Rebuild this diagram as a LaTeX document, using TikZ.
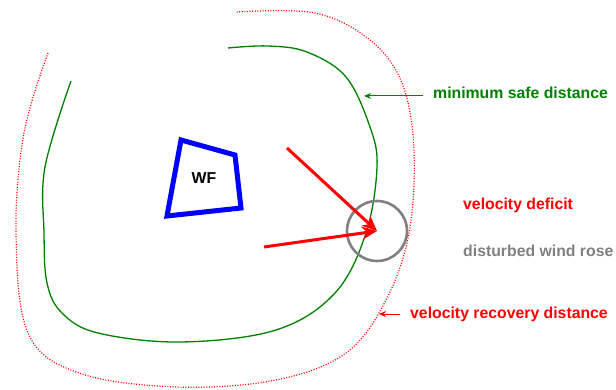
\documentclass[tikz,border=0pt]{standalone}
\usepackage{fontspec}
\setmainfont{Liberation Sans}
\usetikzlibrary{arrows.meta,calc,positioning}
\definecolor{safegreen}{RGB}{0,128,0}
\definecolor{rosegray}{RGB}{128,128,128}
\tikzset{
  safeline/.style={draw=safegreen,line width=1.3pt},
  recoveryline/.style={draw=red,line width=1.2pt,dash pattern=on 1pt off 1.6pt},
  farm/.style={draw=blue,line width=5pt,line join=miter},
  rose/.style={draw=rosegray,circle,line width=2.6pt,minimum size=60pt,inner sep=0pt},
  windarrow/.style={draw=red,line width=3pt,-{Stealth[length=15pt,width=13pt]}},
  tag/.style={font=\bfseries\fontsize{15.8}{18}\selectfont,anchor=west,inner sep=0pt}
}

\begin{document}
\begin{tikzpicture}[x=1pt,y=-1pt,>={Stealth[length=7pt,width=6pt]}]
  \useasboundingbox (0,0) rectangle (616,390);

  % outer limit, velocity recovery
  \draw[recoveryline] plot[smooth,tension=0.6] coordinates {
    (48,53) (24,133) (16,233) (28,333) (79,373) (177,387) (276,380)
    (346,353) (386,300) (409,233) (414,150) (402,83) (370,40) (315,13) (236,12)};

  % inner limit, minimum safe distance
  \draw[safeline] plot[smooth,tension=0.6] coordinates {
    (71,81) (45,167) (44,233) (47,283) (62,313) (98,333) (181,342) (276,330)
    (335,293) (366,233) (377,167) (370,127) (346,77) (307,52) (268,46) (228,48)};

  % wind farm
  \draw[farm] (181,140) -- (235,155) -- (241,208) -- (167,216) -- cycle;
  \node[font=\bfseries\fontsize{15.8}{18}\selectfont] (wf) at (204,178) {WF};

  % disturbed wind rose and wind
  \node[rose] (rose) at (377,231) {};
  \coordinate (w1) at (287,148);
  \coordinate (w2) at (264,247);
  \draw[windarrow] (w1) -- (rose.center);
  \draw[windarrow] (w2) -- (rose.center);

  % labels
  \node[tag,text=safegreen] (safe) at (433,93) {minimum safe distance};
  \coordinate (safept) at (364,96);
  \draw[->,safegreen,line width=1pt] ($(safe.west)+(-10,3)$) -- (safept);

  \node[tag,text=red] (deficit) at (463,205) {velocity deficit};
  \node[tag,text=rosegray] (disturbed) at (463,251) {disturbed wind rose};

  \node[tag,text=red] (recovery) at (410,314) {velocity recovery distance};
  \coordinate (recpt) at (379,314);
  \draw[->,red,line width=1pt] ($(recovery.west)+(-10,0)$) -- (recpt);
\end{tikzpicture}
\end{document}
